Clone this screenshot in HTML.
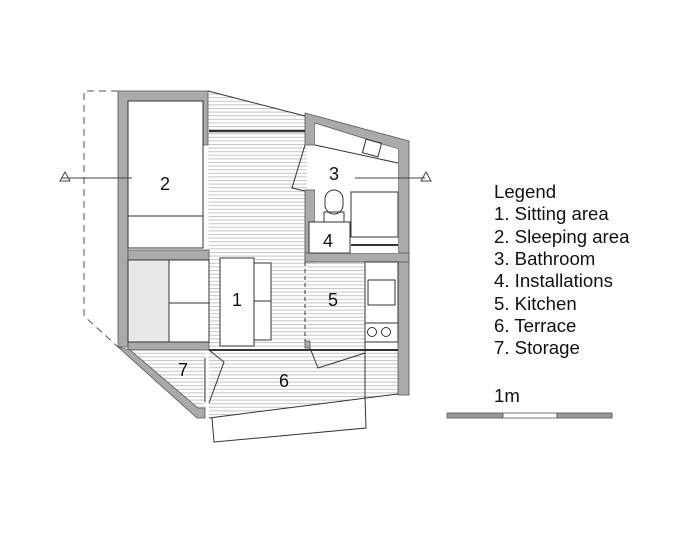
<!DOCTYPE html>
<html><head><style>body{margin:0;background:#fff}svg{display:block}text{font-family:"Liberation Sans",sans-serif;fill:#111}</style></head>
<body>
<svg width="700" height="535" viewBox="0 0 700 535">
<defs>
<pattern id="h" width="10" height="3.6" patternUnits="userSpaceOnUse"><rect width="10" height="3.6" fill="#fff"/><line x1="0" y1="0.5" x2="10" y2="0.5" stroke="#c4c4c4" stroke-width="1"/></pattern>
</defs>
<polygon points="208,91 307,116 307,262 365,262 365,350 209,350" fill="url(#h)"/>
<polygon points="209,350 398,350 398,394 209,418" fill="url(#h)"/>
<polygon points="130,350 205,350 205,408 196,408" fill="url(#h)"/>
<polyline points="118,91 84,91 84,316 118,347" fill="none" stroke="#555" stroke-dasharray="7,5" stroke-width="1"/>
<g fill="#aaa" stroke="#555" stroke-width="0.8">
<polygon points="118,91 208,91 208,145 203,145 203,101 128,101 128,347 118,347"/>
<rect x="128" y="250" width="81" height="10"/>
<rect x="128" y="342" width="81" height="8"/>
<polygon points="118,347 130,350 198,408 205,408 205,418 197,418"/>
<polygon points="305,113 409,141 409,395 398,395 398,149 315,123 315,145 305,145"/>
<rect x="305" y="190" width="10" height="72"/>
<rect x="305" y="253" width="104" height="9"/>
<rect x="305" y="341" width="5" height="7"/>
</g>
<g fill="none" stroke="#333" stroke-width="1">
<line x1="209" y1="131" x2="305" y2="131" stroke-width="2.5"/>
<line x1="208" y1="91" x2="305" y2="116"/>
<rect x="128" y="101" width="75" height="147" fill="#fff"/>
<line x1="128" y1="216" x2="203" y2="216"/>
<rect x="128" y="260" width="41" height="82" fill="#e8e8e8"/>
<rect x="169" y="260" width="40" height="82" fill="#fff"/>
<line x1="169" y1="303" x2="209" y2="303"/>
<rect x="220" y="258" width="34" height="88" fill="#fff"/>
<rect x="254" y="263" width="17" height="77" fill="#fff"/>
<line x1="254" y1="301" x2="271" y2="301"/>
<line x1="209" y1="350" x2="398" y2="350" stroke-width="2"/>
<line x1="209" y1="418" x2="398" y2="394"/>
<polyline points="212,418 214,442 366,428 365,397"/>
<line x1="305" y1="262" x2="305" y2="341" stroke-dasharray="4,3"/>
<rect x="365" y="262" width="33" height="80" fill="#fff"/>
<rect x="368" y="280" width="27" height="25"/>
<circle cx="372" cy="332" r="4.5"/><circle cx="386" cy="332" r="4.5"/>
<line x1="365" y1="323" x2="398" y2="323"/>
<line x1="365" y1="342" x2="365" y2="398"/>
<polygon points="315,125 398,149 398,253 315,253" fill="#fff" stroke="none"/>
<line x1="315" y1="145" x2="398" y2="163"/>
<rect x="364" y="141" width="16" height="14" transform="rotate(15 372 148)"/>
<rect x="351" y="192" width="47" height="45"/>
<line x1="351" y1="245" x2="398" y2="245" stroke-width="2"/>
<rect x="325" y="190" width="18" height="24" rx="9"/>
<rect x="324" y="212" width="20" height="10"/>
<rect x="309" y="222" width="41" height="31" fill="#fff"/>
<polyline points="305,145 292,188 305,191"/>
<polyline points="310,348 318,368 365,353"/>
<polyline points="209,350 224,362 209,403"/>
<line x1="205" y1="358" x2="205" y2="402"/>
</g>
<line x1="62" y1="178" x2="132" y2="178" stroke="#444"/>
<polygon points="60,181 65,172 70,181" fill="none" stroke="#444"/>
<line x1="355" y1="178" x2="425" y2="178" stroke="#444"/>
<polygon points="421,181 426,172 431,181" fill="none" stroke="#444"/>
<g font-size="18" text-anchor="middle">
<text x="165" y="190">2</text><text x="334" y="180">3</text><text x="328" y="247">4</text>
<text x="237" y="306">1</text><text x="333" y="306">5</text><text x="183" y="376">7</text><text x="284" y="387">6</text>
</g>
<g font-size="18.6">
<text x="494" y="198">Legend</text>
<text x="494" y="220">1. Sitting area</text>
<text x="494" y="243">2. Sleeping area</text>
<text x="494" y="265">3. Bathroom</text>
<text x="494" y="287">4. Installations</text>
<text x="494" y="310">5. Kitchen</text>
<text x="494" y="332">6. Terrace</text>
<text x="494" y="354">7. Storage</text>
<text x="494" y="402">1m</text>
</g>
<rect x="447" y="413" width="56" height="5" fill="#999" stroke="#555" stroke-width="0.8"/>
<rect x="503" y="413" width="54" height="5" fill="#fff" stroke="#555" stroke-width="0.8"/>
<rect x="557" y="413" width="55" height="5" fill="#999" stroke="#555" stroke-width="0.8"/>
</svg>
</body></html>
